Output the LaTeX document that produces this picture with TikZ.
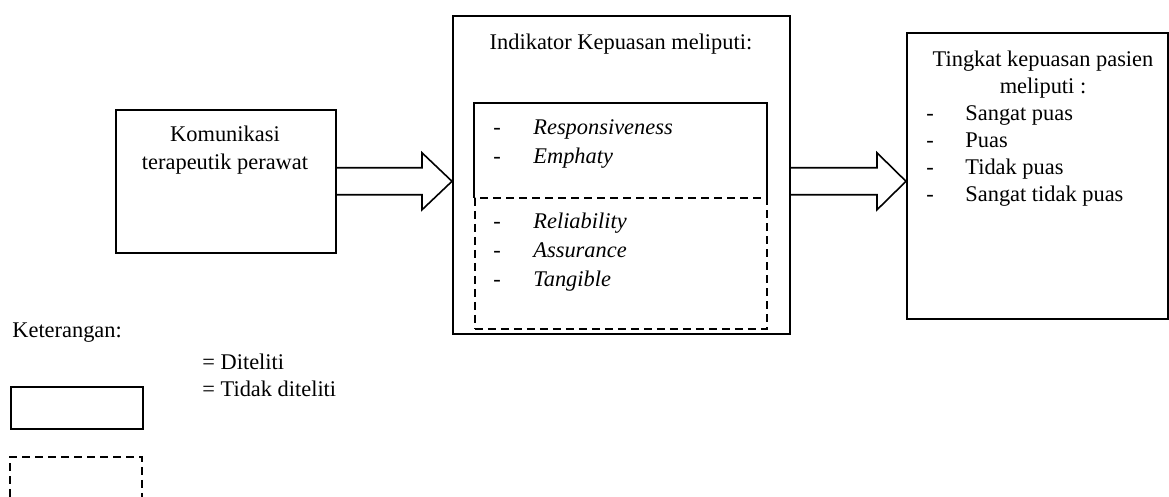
\documentclass[tikz,border=0pt]{standalone}
\usepackage{fontspec}
\setmainfont{Liberation Serif}
\usetikzlibrary{calc}
\begin{document}
\begin{tikzpicture}[x=0.5pt,y=-0.5pt,
  box/.style={draw, line width=0.8pt, inner sep=0pt},
  dbox/.style={draw, line width=0.8pt, dash pattern=on 4pt off 2.5pt, inner sep=0pt},
  txt/.style={inner sep=0pt, font=\fontsize{11.2}{14}\selectfont},
  itm/.style={txt, anchor=base west, font=\fontsize{11.2}{14}\selectfont\itshape},
  rtm/.style={txt, anchor=base west},
  dsh/.style={txt, anchor=base},
  blockarrow/.style={draw, line width=0.8pt, line join=miter}]
\useasboundingbox (0,0) rectangle (1169,497);

% boxes
\node[box, anchor=north west, minimum width=110pt, minimum height=71.5pt] (kom) at (115,109) {};
\node[box, anchor=north west, minimum width=168.5pt, minimum height=159pt] (ind) at (452,15) {};
\node[inner sep=0pt, anchor=north west, minimum width=146pt, minimum height=47pt] (resp) at (474,103) {};
\draw[line width=0.8pt] (resp.south west) -- (resp.north west) -- (resp.north east) -- (resp.south east);
\node[dbox, anchor=north west, minimum width=146pt, minimum height=65.5pt] (rel) at (474,197) {};
\node[box, anchor=north west, minimum width=130.5pt, minimum height=143pt] (tk) at (906,32) {};

% block arrows
\draw[blockarrow] let \p1=(kom.east), \p2=(ind.west) in
  (\x1,\y1+6.75pt) -- (\x2-15pt,\y1+6.75pt) -- (\x2-15pt,\y1+14.25pt) -- (\x2,\y1)
  -- (\x2-15pt,\y1-14.25pt) -- (\x2-15pt,\y1-6.75pt) -- (\x1,\y1-6.75pt);
\draw[blockarrow] let \p1=(ind.east), \p2=(tk.west), \p3=(kom.east) in
  (\x1,\y3+6.75pt) -- (\x2-14.5pt,\y3+6.75pt) -- (\x2-14.5pt,\y3+14.25pt) -- (\x2,\y3)
  -- (\x2-14.5pt,\y3-14.25pt) -- (\x2-14.5pt,\y3-6.75pt) -- (\x1,\y3-6.75pt);

% left box text
\node[txt, anchor=base] (k1) at (225,142) {Komunikasi};
\node[txt, anchor=base] (k2) at (225,170) {terapeutik perawat};

% middle box text
\node[txt, anchor=base] (it) at (621,50) {Indikator Kepuasan meliputi:};
\node[dsh] (d1) at (497,135) {-};
\node[itm] (i1) at (533,135) {Responsiveness};
\node[dsh] (d2) at (497,164) {-};
\node[itm] (i2) at (533,164) {Emphaty};
\node[dsh] (d3) at (497,229) {-};
\node[itm] (i3) at (533,229) {Reliability};
\node[dsh] (d4) at (497,258) {-};
\node[itm] (i4) at (533,258) {Assurance};
\node[dsh] (d5) at (497,287) {-};
\node[itm] (i5) at (533,287) {Tangible};

% right box text
\node[txt, anchor=base] (t1) at (1043,67) {Tingkat kepuasan pasien};
\node[txt, anchor=base] (t2) at (1043,94) {meliputi :};
\node[dsh] (e1) at (930,121) {-};
\node[rtm] (r1) at (965,121) {Sangat puas};
\node[dsh] (e2) at (930,148) {-};
\node[rtm] (r2) at (965,148) {Puas};
\node[dsh] (e3) at (930,175) {-};
\node[rtm] (r3) at (965,175) {Tidak puas};
\node[dsh] (e4) at (930,202) {-};
\node[rtm] (r4) at (965,202) {Sangat tidak puas};

% legend
\node[txt, anchor=base west] (ket) at (12,338) {Keterangan:};
\node[txt, anchor=base west] (l1) at (202,370) {= Diteliti};
\node[txt, anchor=base west] (l2) at (202,397) {= Tidak diteliti};
\node[box, anchor=north west, minimum width=66pt, minimum height=21pt] (lgs) at (10,386) {};
\draw[line width=0.8pt, dash pattern=on 4pt off 2.5pt] (10,497) -- (10,457) -- (142,457) -- (142,497);
\end{tikzpicture}
\end{document}
